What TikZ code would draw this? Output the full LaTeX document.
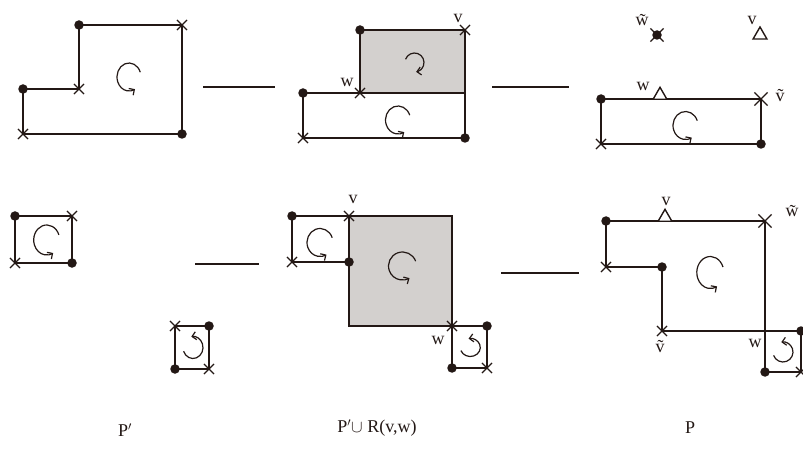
\documentclass[tikz,border=0pt]{standalone}
\usepackage{fontspec}
\setmainfont{Liberation Serif}
\usetikzlibrary{shapes.misc,shapes.geometric,arrows.meta,calc}
\definecolor{ink}{HTML}{231815}
\definecolor{greyfill}{HTML}{D3D0CE}
\newcommand\rotccw[3]{\draw[rot] ($(#1)+(20:#2pt and #3pt)$) arc[start angle=20,end angle=300,x radius=#2pt,y radius=#3pt];}
\newcommand\rotcw[3]{\draw[rot] ($(#1)+(160:#2pt and #3pt)$) arc[start angle=160,end angle=-80,x radius=#2pt,y radius=#3pt];}
\newcommand\rotsmall[3]{\draw[rot] ($(#1)+(200:#2pt and #3pt)$) arc[start angle=200,end angle=460,x radius=#2pt,y radius=#3pt];}
\begin{document}
\begin{tikzpicture}[x=1pt,y=-1pt,
  edge/.style={line width=1.7pt, draw=ink, line join=miter},
  linkline/.style={line width=2pt, draw=ink},
  dotm/.style={circle, fill=ink, inner sep=0pt, minimum size=9.5pt},
  crs/.style={cross out, draw=ink, line width=1.1pt, inner sep=0pt, minimum size=9pt},
  bigcrs/.style={cross out, draw=ink, line width=1.2pt, inner sep=0pt, minimum size=12pt},
  tri/.style={regular polygon, regular polygon sides=3, draw=ink, line width=1.4pt, fill=white, inner sep=0pt, minimum size=16pt},
  lbl/.style={font=\fontsize{18}{18}\selectfont, text=ink, inner sep=0pt},
  rot/.style={line width=1.2pt, draw=ink, -{Straight Barb[length=4pt,width=8pt]}}]
\useasboundingbox (0,0) rectangle (803,449);

% ---------- top left: P' (first) ----------
\coordinate (a1) at (23,89);  \coordinate (a2) at (79,89);
\coordinate (a3) at (79,25);  \coordinate (a4) at (182,25);
\coordinate (a5) at (182,134);\coordinate (a6) at (23,134);
\draw[edge] (a1) -- (a2) -- (a3) -- (a4) -- (a5) -- (a6) -- cycle;
\node[dotm] (A1) at (a1) {}; \node[crs] (A2) at (a2) {};
\node[dotm] (A3) at (a3) {}; \node[crs] (A4) at (a4) {};
\node[dotm] (A5) at (a5) {}; \node[crs] (A6) at (a6) {};
\coordinate (ra1) at (129,77); \rotccw{ra1}{12}{14}

% ---------- top middle ----------
\coordinate (b1) at (360,30);  \coordinate (b2) at (465,30);
\coordinate (b3) at (465,93);  \coordinate (b4) at (360,93);
\coordinate (b5) at (303,93);  \coordinate (b6) at (465,138);
\coordinate (b7) at (303,138);
\fill[greyfill] (b1) rectangle (b3);
\draw[edge] (b1) -- (b2) -- (b3) -- (b4) -- cycle;
\draw[edge] (b5) -- (b3) -- (b6) -- (b7) -- cycle;
\node[dotm] (B1) at (b1) {}; \node[crs] (B2) at (b2) {};
\node[crs] (B4) at (b4) {}; \node[dotm] (B5) at (b5) {};
\node[dotm] (B6) at (b6) {}; \node[crs] (B7) at (b7) {};
\node[lbl] (lv1) at (458,18) {v};
\node[lbl] (lw1) at (347,82) {w};
\coordinate (rb1) at (414.5,62.5); \rotcw{rb1}{9.5}{9.5}
\coordinate (rb2) at (398,120); \rotccw{rb2}{12.5}{14}

% ---------- top right ----------
\coordinate (c1) at (601,99);  \coordinate (c2) at (761,99);
\coordinate (c3) at (761,144); \coordinate (c4) at (601,144);
\draw[edge] (c1) -- (c2) -- (c3) -- (c4) -- cycle;
\node[dotm] (C1) at (c1) {}; \node[bigcrs] (C2) at (c2) {};
\node[dotm] (C3) at (c3) {}; \node[crs] (C4) at (c4) {};
\node[tri, anchor=south] (T1) at (660,100) {};
\node[dotm] (C5) at (657,35) {}; \node[bigcrs] (C6) at (657,35) {};
\node[tri] (T2) at (760,35) {};
\node[lbl] (lwt1) at (642,20) {\~{w}};
\node[lbl] (lv2) at (752,20) {v};
\node[lbl] (lw2) at (643,86) {w};
\node[lbl] (lvt1) at (780,96) {\~{v}};
\coordinate (rc1) at (685.5,125.5); \rotccw{rc1}{12.5}{14}

% ---------- connectors top ----------
\coordinate (s1) at (203,87); \coordinate (s2) at (275,87);
\coordinate (s3) at (492,87); \coordinate (s4) at (569,87);
\draw[linkline] (s1) -- (s2);
\draw[linkline] (s3) -- (s4);

% ---------- bottom left ----------
\coordinate (d1) at (15,216); \coordinate (d2) at (72,216);
\coordinate (d3) at (72,263); \coordinate (d4) at (15,263);
\draw[edge] (d1) -- (d2) -- (d3) -- (d4) -- cycle;
\node[dotm] (D1) at (d1) {}; \node[crs] (D2) at (d2) {};
\node[dotm] (D3) at (d3) {}; \node[crs] (D4) at (d4) {};
\coordinate (rd1) at (46.7,240); \rotccw{rd1}{13}{15}
\coordinate (e1) at (175,326); \coordinate (e2) at (209,326);
\coordinate (e3) at (209,369); \coordinate (e4) at (175,369);
\draw[edge] (e1) -- (e2) -- (e3) -- (e4) -- cycle;
\node[crs] (E1) at (e1) {}; \node[dotm] (E2) at (e2) {};
\node[crs] (E3) at (e3) {}; \node[dotm] (E4) at (e4) {};
\coordinate (re1) at (193,347.5); \rotsmall{re1}{10}{11}

% ---------- bottom middle ----------
\coordinate (f1) at (292,216); \coordinate (f2) at (349,216);
\coordinate (f3) at (349,262); \coordinate (f4) at (292,262);
\coordinate (g1) at (452,216); \coordinate (g2) at (452,326);
\coordinate (g3) at (349,326);
\coordinate (g4) at (487,326); \coordinate (g5) at (487,368);
\coordinate (g6) at (452,368);
\fill[greyfill] (f2) rectangle (g2);
\draw[edge] (f2) -- (g1) -- (g2) -- (g3) -- cycle;
\draw[edge] (f1) -- (f2) -- (f3) -- (f4) -- cycle;
\draw[edge] (g2) -- (g4) -- (g5) -- (g6) -- cycle;
\node[dotm] (F1) at (f1) {}; \node[crs] (F2) at (f2) {};
\node[dotm] (F3) at (f3) {}; \node[crs] (F4) at (f4) {};
\node[crs] (G2) at (g2) {}; \node[dotm] (G4) at (g4) {};
\node[crs] (G5) at (g5) {}; \node[dotm] (G6) at (g6) {};
\node[lbl] (lv3) at (353,199) {v};
\node[lbl] (lw3) at (438,340) {w};
\coordinate (rf1) at (320,242.5); \rotccw{rf1}{13}{14}
\coordinate (rf2) at (402.5,266); \rotccw{rf2}{14}{14}
\coordinate (rf3) at (470.3,347.5); \rotsmall{rf3}{10}{9}

% ---------- bottom right ----------
\coordinate (h1) at (606,221); \coordinate (h3) at (765,221);
\coordinate (h4) at (765,372); \coordinate (h5) at (801,372);
\coordinate (h6) at (801,331); \coordinate (h7) at (662,331);
\coordinate (h8) at (662,267); \coordinate (h9) at (606,267);
\draw[edge] (h1) -- (h3) -- (h4) -- (h5) -- (h6) -- (h7) -- (h8) -- (h9) -- cycle;
\node[dotm] (H1) at (h1) {}; \node[bigcrs] (H3) at (h3) {};
\node[dotm] (H4) at (h4) {}; \node[crs] (H5) at (h5) {};
\node[dotm] (H6) at (h6) {}; \node[crs] (H7) at (h7) {};
\node[dotm] (H8) at (h8) {}; \node[crs] (H9) at (h9) {};
\node[tri, anchor=south] (T3) at (665,222) {};
\node[lbl] (lv4) at (666,201) {v};
\node[lbl] (lwt2) at (792,211) {\~{w}};
\node[lbl] (lvt2) at (660,347) {\~{v}};
\node[lbl] (lw4) at (755,343) {w};
\coordinate (rh1) at (710.3,272.5); \rotccw{rh1}{13.5}{16}
\coordinate (rh2) at (783,352); \rotsmall{rh2}{10}{10}

% ---------- connectors bottom ----------
\coordinate (s5) at (195,264); \coordinate (s6) at (259,264);
\coordinate (s7) at (501,273); \coordinate (s8) at (579,273);
\draw[linkline] (s5) -- (s6);
\draw[linkline] (s7) -- (s8);

% ---------- captions ----------
\node[lbl] (cap1) at (125,430) {P$'$};
\node[lbl] (cap2) at (377,428) {P$'$$\cup$ R(v,w)};
\node[lbl] (cap3) at (690,428) {P};
\end{tikzpicture}
\end{document}
